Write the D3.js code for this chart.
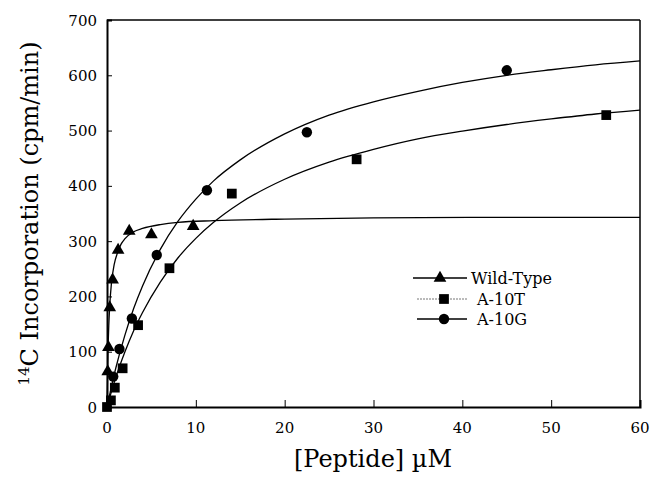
<!DOCTYPE html>
<html>
<head>
<meta charset="utf-8">
<script src="https://cdn.jsdelivr.net/npm/d3@7"></script>
<style>
  html, body { margin: 0; padding: 0; background: #fff; }
  svg text { font-family: "DejaVu Serif", "Liberation Serif", serif; fill: #000; }
</style>
</head>
<body>
<div id="chart"></div>
<script>
// measured points
var wtX = [0.08, 0.16, 0.31, 0.63, 1.25, 2.5, 5, 9.7];
var wtY = [64, 108, 180, 230, 284, 318, 312, 327];
var a10tX = [0, 0.44, 0.88, 1.76, 3.5, 7.03, 14.05, 28.1, 56.2];
var a10tY = [0, 12, 35, 70, 148, 251, 386, 448, 528];
var a10gX = [0.7, 1.4, 2.8, 5.6, 11.25, 22.5, 45];
var a10gY = [55, 105, 160, 275, 392, 497, 609];

// fitted curves
var wtFitX = [0, 0.1, 0.2, 0.3, 0.5, 0.8, 1.2, 1.6, 2, 3, 4, 6, 8, 12, 20, 30, 45, 60];
var wtFitY = [0, 93, 147, 181, 224, 257, 280, 295, 304, 317, 323, 330, 334, 337, 340, 342, 343, 343];
var a10tFitX = [0, 1, 2, 3, 4, 6, 8, 10, 12, 15, 20, 25, 30, 35, 40, 45, 50, 55, 60];
var a10tFitY = [0, 54, 99, 138, 171, 226, 270, 305, 334, 369, 412, 443, 466, 485, 499, 511, 521, 530, 537];
var a10gFitX = [0, 1, 2, 3, 4, 6, 8, 10, 12, 15, 20, 25, 30, 35, 40, 45, 50, 55, 60];
var a10gFitY = [0, 71, 129, 178, 219, 285, 336, 376, 409, 447, 494, 528, 552, 571, 587, 600, 610, 619, 626];

var xTicks = [0, 10, 20, 30, 40, 50, 60];
var yTicks = [0, 100, 200, 300, 400, 500, 600, 700];
var legendNames = ['Wild-Type', 'A-10T', 'A-10G'];

var W = 650, H = 478;
var x0 = 107, x1 = 640, y0 = 407, y1 = 20;

var svg = d3.select('#chart').append('svg').attr('width', W).attr('height', H);

var x = d3.scaleLinear().domain([0, 60]).range([x0, x1]);
var y = d3.scaleLinear().domain([0, 700]).range([y0, y1]);

function zip(xs, ys) {
  return xs.map(function (v, i) { return { x: v, y: ys[i] }; });
}

// frame
svg.append('line').attr('x1', x0).attr('x2', x1).attr('y1', y1).attr('y2', y1)
  .attr('stroke', '#000').attr('stroke-width', 1.5);
svg.append('line').attr('x1', x1).attr('x2', x1).attr('y1', y1).attr('y2', y0)
  .attr('stroke', '#000').attr('stroke-width', 1.5);

// axes with inward ticks
var xAxis = svg.append('g').attr('transform', 'translate(0,' + y0 + ')')
  .call(d3.axisTop(x).tickValues(xTicks).tickSize(7).tickFormat(''));
var yAxis = svg.append('g').attr('transform', 'translate(' + x0 + ',0)')
  .call(d3.axisRight(y).tickValues(yTicks).tickSize(5).tickFormat(''));
[xAxis, yAxis].forEach(function (a) {
  a.select('.domain').attr('stroke', '#000').attr('stroke-width', 2);
  a.selectAll('.tick line').attr('stroke', '#000').attr('stroke-width', 1);
});
xAxis.selectAll('.tick').filter(function (d) { return d === 0 || d === 60; }).remove();
yAxis.selectAll('.tick').filter(function (d) { return d === 0 || d === 700; }).remove();

svg.append('g').selectAll('text').data(xTicks).join('text')
  .attr('x', function (d) { return x(d); })
  .attr('y', 433)
  .attr('text-anchor', 'middle')
  .attr('font-size', '15px')
  .text(function (d) { return d; });

svg.append('g').selectAll('text').data(yTicks).join('text')
  .attr('x', 97)
  .attr('y', function (d) { return y(d) + 5.5; })
  .attr('text-anchor', 'end')
  .attr('font-size', '15px')
  .text(function (d) { return d; });

// axis titles
svg.append('text')
  .attr('x', 373)
  .attr('y', 467)
  .attr('text-anchor', 'middle')
  .attr('font-size', '24px')
  .text('[Peptide] \u00b5M');

var yl = svg.append('text')
  .attr('transform', 'translate(38,' + ((y0 + y1) / 2) + ') rotate(-90)')
  .attr('text-anchor', 'middle')
  .attr('font-size', '24px');
yl.append('tspan').attr('font-size', '15px').attr('dy', -9).text('14');
yl.append('tspan').attr('dy', 9).text('C Incorporation (cpm/min)');

// curves
var line = d3.line()
  .x(function (d) { return x(d.x); })
  .y(function (d) { return y(d.y); })
  .curve(d3.curveMonotoneX);

var fits = [zip(wtFitX, wtFitY), zip(a10tFitX, a10tFitY), zip(a10gFitX, a10gFitY)];
svg.append('g').selectAll('path').data(fits).join('path')
  .attr('d', line)
  .attr('fill', 'none')
  .attr('stroke', '#000')
  .attr('stroke-width', 1.3);

// markers
var tri = d3.symbol().type(d3.symbolTriangle).size(70);
var sq = d3.symbol().type(d3.symbolSquare).size(95);
var circ = d3.symbol().type(d3.symbolCircle).size(85);

function drawMarks(data, sym) {
  svg.append('g').selectAll('path').data(data).join('path')
    .attr('d', sym)
    .attr('transform', function (d) { return 'translate(' + x(d.x) + ',' + y(d.y) + ')'; })
    .attr('fill', '#000');
}
drawMarks(zip(wtX, wtY), tri);
drawMarks(zip(a10gX, a10gY), circ);
drawMarks(zip(a10tX, a10tY), sq);

// legend
var legendY = [278, 299, 319];
var legendSyms = [tri, sq, circ];
var legend = svg.append('g');
legendNames.forEach(function (name, i) {
  var ly = legendY[i];
  legend.append('line')
    .attr('x1', i === 0 ? 413 : 417).attr('x2', 467)
    .attr('y1', ly).attr('y2', ly)
    .attr('stroke', i === 1 ? '#777' : '#000')
    .attr('stroke-width', i === 1 ? 1 : 1.3)
    .attr('stroke-dasharray', i === 1 ? '2,1' : null);
  legend.append('path')
    .attr('d', legendSyms[i])
    .attr('transform', 'translate(' + (i === 0 ? 440 : 444) + ',' + ly + ')')
    .attr('fill', '#000');
  legend.append('text')
    .attr('x', i === 0 ? 471 : 477)
    .attr('y', ly + 5.5)
    .attr('font-size', '16px')
    .text(name);
});
</script>
</body>
</html>
